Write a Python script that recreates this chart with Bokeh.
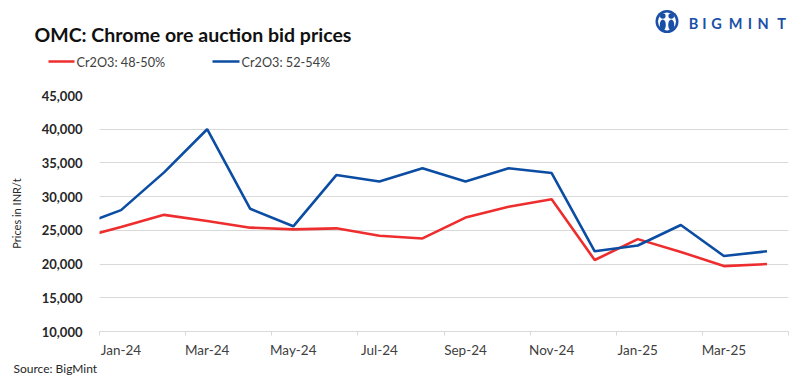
from bokeh.plotting import figure
from bokeh.layouts import column
from bokeh.models import FixedTicker, NumeralTickFormatter, Range1d
from bokeh.core.properties import value
from bokeh.embed import file_html
from bokeh.resources import INLINE

# ---- data ----
month_index = [-1, 0, 1, 2, 3, 4, 5, 6, 7, 8, 9, 10, 11, 12, 13, 14, 15]
months = ["Dec-23", "Jan-24", "Feb-24", "Mar-24", "Apr-24", "May-24", "Jun-24", "Jul-24",
          "Aug-24", "Sep-24", "Oct-24", "Nov-24", "Dec-24", "Jan-25", "Feb-25", "Mar-25", "Apr-25"]
cr_48_50 = [23800, 25500, 27300, 26400, 25400, 25150, 25300, 24200, 23800, 26900, 28500,
            29600, 20600, 23700, 21800, 19700, 20000]
cr_52_54 = [25600, 28000, 33600, 40000, 28200, 25600, 33200, 32250, 34200, 32250, 34200,
            33500, 21900, 22750, 25800, 21200, 21900]
label_ticks = [0, 2, 4, 6, 8, 10, 12, 14]
label_text = ["Jan-24", "Mar-24", "May-24", "Jul-24", "Sep-24", "Nov-24", "Jan-25", "Mar-25"]
tick_marks = [-0.5, 1.5, 3.5, 5.5, 7.5, 9.5, 11.5, 13.5, 15.5]
y_ticks = [10000, 15000, 20000, 25000, 30000, 35000, 40000, 45000]
series_names = ["Cr2O3: 48-50%", "Cr2O3: 52-54%"]
title_text = "OMC: Chrome ore auction bid prices"
source_text = "Source: BigMint"
logo_letters = ["B", "I", "G", "M", "I", "N", "T"]

RED = "#EE2E2E"
BLUE = "#0B4DA2"
LOGO = "#1A4FA8"
FONT = "Lato"
W = 805
HEAD_H = 87
FOOT_H = 25
MAIN_H = 385 - HEAD_H - FOOT_H


def blank(height):
    f = figure(width=W, height=height, output_backend="svg", toolbar_location=None,
               x_range=Range1d(0, W), y_range=Range1d(height, 0),
               x_axis_location=None, y_axis_location=None,
               min_border=0, min_border_left=0, min_border_right=0,
               min_border_top=0, min_border_bottom=0, frame_align=False)
    f.grid.visible = False
    f.outline_line_color = None
    f.background_fill_color = "white"
    f.border_fill_color = "white"
    return f


# ---- header: title, legend, logo (pixel layout) ----
head = blank(HEAD_H)
head.text(x=[34], y=[34], text=[title_text], text_font=value(FONT), text_font_style="bold",
          text_font_size="19.5px", text_color="#111111", text_baseline="middle")
head.segment(x0=[48, 212], y0=[61, 61], x1=[74, 239], y1=[61, 61],
             line_color=[RED, BLUE], line_width=2.6)
head.text(x=[76, 241], y=[61, 61], text=series_names, text_font=value(FONT),
          text_font_size="12.7px", text_color="#404040", text_baseline="middle")
logo_centers = [693, 704, 716, 735, 749.5, 762.5, 781]
head.text(x=logo_centers, y=[23] * 7, text=logo_letters, text_font=value(FONT),
          text_font_style="bold", text_font_size="14.5px", text_color=LOGO,
          text_baseline="middle", text_align="center")
head.circle(x=[666.5], y=[21], radius=11.5, fill_color=LOGO, line_color=None)
head.circle(x=[666.5], y=[21], radius=9, fill_color="white", line_color=None)
head.circle(x=[662.3, 670.7], y=[15.5, 15.5], radius=2.8, fill_color=LOGO, line_color=None)
head.ellipse(x=[662.3, 670.7], y=[24.5, 24.5], width=6, height=11, fill_color=LOGO,
             line_color=None)

# ---- main chart ----
p = figure(width=W, height=MAIN_H, output_backend="svg", toolbar_location=None,
           x_range=Range1d(-0.5, 15.5), y_range=Range1d(10000, 45000),
           min_border_left=99, min_border_right=17, min_border_top=8,
           min_border_bottom=MAIN_H - 8 - 238, frame_align=False)
p.outline_line_color = None
p.background_fill_color = "white"
p.border_fill_color = "white"

p.line(month_index, cr_48_50, line_color=RED, line_width=2.6)
p.line(month_index, cr_52_54, line_color=BLUE, line_width=2.6)

xa = p.xaxis[0]
xa.ticker = FixedTicker(ticks=label_ticks, minor_ticks=tick_marks)
xa.major_label_overrides = {t: s for t, s in zip(label_ticks, label_text)}
xa.major_tick_out = 0
xa.major_tick_in = 0
xa.minor_tick_out = 4
xa.minor_tick_in = 0
xa.minor_tick_line_color = "#D9D9D9"
xa.axis_line_color = "#D9D9D9"
xa.major_label_text_font = FONT
xa.major_label_text_font_size = "13.5px"
xa.major_label_text_color = "#404040"
xa.major_label_standoff = 6

ya = p.yaxis[0]
ya.ticker = FixedTicker(ticks=y_ticks)
ya.formatter = NumeralTickFormatter(format="0,0")
ya.axis_line_color = None
ya.major_tick_line_color = None
ya.minor_tick_line_color = None
ya.major_label_text_font = FONT
ya.major_label_text_font_style = "bold"
ya.major_label_text_font_size = "13px"
ya.major_label_text_color = "#262626"
ya.major_label_standoff = 11
ya.axis_label = "Prices in INR/t"
ya.axis_label_text_font = FONT
ya.axis_label_text_font_style = "normal"
ya.axis_label_text_font_size = "11px"
ya.axis_label_text_color = "#262626"
ya.axis_label_standoff = 16

p.xgrid.grid_line_color = None
p.ygrid.grid_line_color = "#D9D9D9"
p.ygrid.grid_line_width = 1

# ---- footer: source ----
foot = blank(FOOT_H)
foot.text(x=[13], y=[368 - (385 - FOOT_H)], text=[source_text], text_font=value(FONT),
          text_font_size="12px", text_color="#262626", text_baseline="middle")

layout = column(head, p, foot, spacing=0)
open("out.html", "w").write(file_html(layout, INLINE))
